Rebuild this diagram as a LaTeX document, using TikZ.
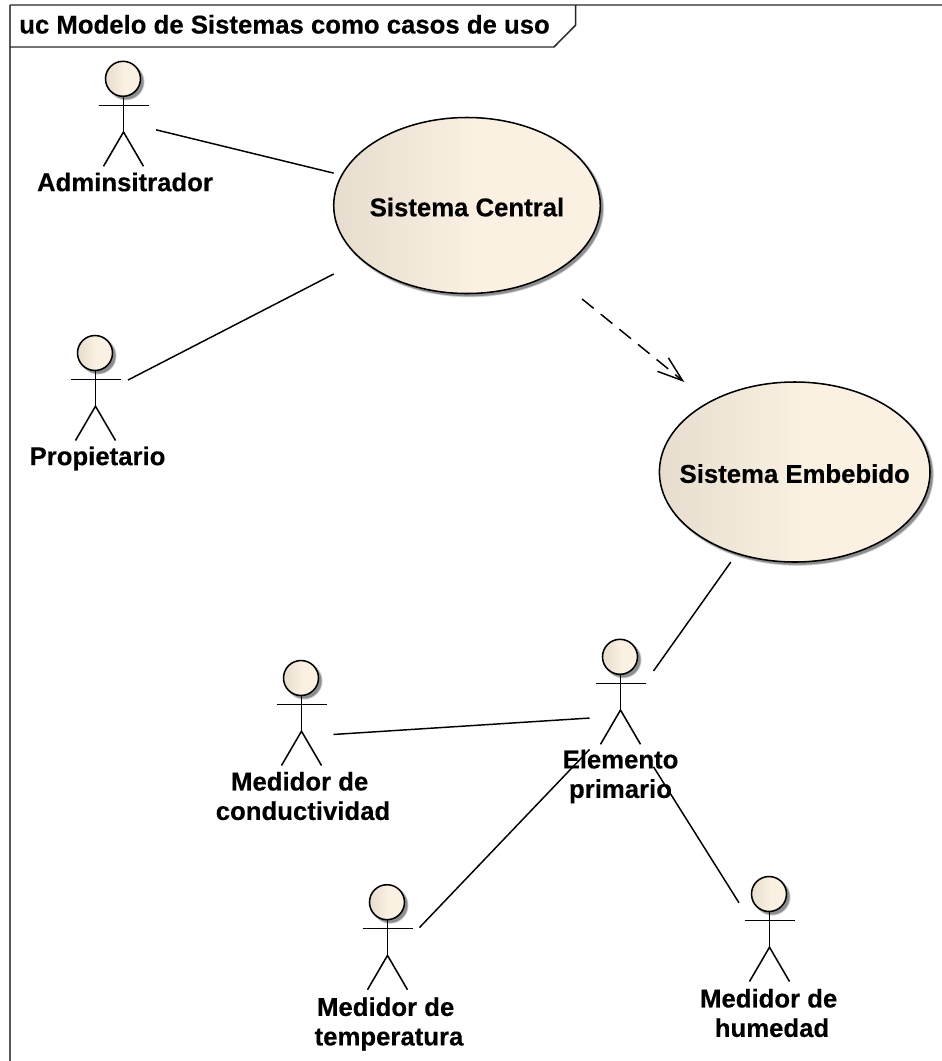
\documentclass[tikz,border=0pt]{standalone}
\usepackage{fontspec}
\setmainfont[BoldFeatures={FakeBold=0.35}]{Liberation Sans}
\usetikzlibrary{arrows.meta}
\definecolor{eaL}{HTML}{E6DDCE}
\definecolor{eaR}{HTML}{FBF1E3}
\pgfdeclarehorizontalshading{eafill}{100bp}{color(0bp)=(eaL);color(25bp)=(eaL);color(52bp)=(eaR);color(100bp)=(eaR)}
\tikzset{
  lbl/.style={font=\fontsize{19.3pt}{22.1pt}\selectfont\bfseries,inner sep=0pt,align=center,text=black},
  actorbox/.style={rectangle,inner sep=0pt,outer sep=0pt,minimum width=48pt,minimum height=90pt},
  ucbox/.style={rectangle,inner sep=0pt,outer sep=0pt,font=\fontsize{19.3pt}{22.1pt}\selectfont\bfseries,text height=16.2pt,text depth=0pt},
  stick/.style={draw=black,line width=1.15pt},
  conn/.style={draw=black,line width=1.1pt},
  dep/.style={draw=black,line width=1.1pt,dash pattern=on 11.25pt off 6.75pt,
     -{Straight Barb[length=19pt,width=13pt,line width=1.1pt]}},
}
% soft drop shadow of an ellipse
\newcommand{\softshadow}[5]{% cx cy rx ry offset
  \foreach \g/\o in {1.4/0.12,0.8/0.16,0.2/0.25}{
    \fill[black,opacity=\o] (#1+#5,#2+#5) ellipse [x radius=#3+\g,y radius=#4+\g];
  }
}
% actor figure: head centre hx,hy
\newcommand{\actorfig}[2]{%
  \softshadow{#1}{#2}{17.3}{17.3}{3}
  \path[shade,shading=eafill,draw=black,line width=1.15pt] (#1,#2) ellipse [x radius=17.5,y radius=17.5];
  \draw[stick] (#1+0.5,#2+17.5) -- (#1+0.5,#2+53.2);
  \draw[stick] (#1-24.5,#2+26.5) -- (#1+25.5,#2+26.5);
  \draw[stick] (#1-19.5,#2+87.5) -- (#1+0.5,#2+53.2) -- (#1+20.5,#2+87.5);
}
\begin{document}
\begin{tikzpicture}[x=0.75pt,y=-0.75pt]
\useasboundingbox (0,0) rectangle (942,1061);
% frame
\draw[draw=black!55,line width=1.1pt] (942,5) -- (576,5);
\draw[draw=black!65,line width=1.1pt] (10,1061) -- (10,5);
\draw[draw=black!85,line width=1.1pt] (10,5) -- (575.7,5) -- (575.7,25) -- (554,47) -- (10,47);
\node[lbl,anchor=base west] (title) at (19,33.5) {uc Modelo de Sistemas como casos de uso};
% use cases
\softshadow{467}{205.5}{133.3}{88}{2.5}
\path[shade,shading=eafill,draw=black,line width=1.15pt] (467,205.5) ellipse [x radius=133.3,y radius=88];
\softshadow{794.7}{472}{135.3}{90}{2.5}
\path[shade,shading=eafill,draw=black,line width=1.15pt] (794.7,472) ellipse [x radius=135.3,y radius=90];
\node[ucbox,minimum width=200pt,minimum height=132pt] (sc) at (467,205.5) {Sistema Central};
\node[ucbox,minimum width=203pt,minimum height=135pt] (sb) at (794.7,472) {Sistema Embebido};
% actors
\actorfig{123}{78.8}
\actorfig{95}{353}
\actorfig{620}{656.8}
\actorfig{301}{678}
\actorfig{387}{902.2}
\actorfig{769}{894}
\node[actorbox] (adm) at (124,122) {};
\node[actorbox] (pro) at (96,396.5) {};
\node[actorbox] (ele) at (621.5,716) {};
\node[actorbox] (con) at (301.5,736.5) {};
\node[actorbox] (tem) at (387.5,961) {};
\node[actorbox] (hum) at (771,953.6) {};
% labels
\node[lbl] (admL) at (125,182) {Adminsitrador};
\node[lbl] (proL) at (97.5,458.5) {Propietario};
\node[lbl] (eleL) at (620.5,776.5) {Elemento\\primario};
\node[lbl] (conL) at (303,796) {Medidor de\hspace*{5pt}\\conductividad};
\node[lbl] (temL) at (389,1024) {Medidor de\hspace*{5pt}\\temperatura};
\node[lbl] (humL) at (772,1013) {Medidor de\hspace*{5pt}\\humedad};
% connectors
\draw[conn] (adm) -- (sc);
\draw[conn] (pro) -- (sc);
\draw[dep,shorten <=6.5pt] (sc) -- (sb);
\draw[conn] (sb) -- (ele);
\draw[conn] (con) -- (ele);
\draw[conn] (tem) -- (ele);
\draw[conn] (hum) -- (ele);
\end{tikzpicture}
\end{document}
